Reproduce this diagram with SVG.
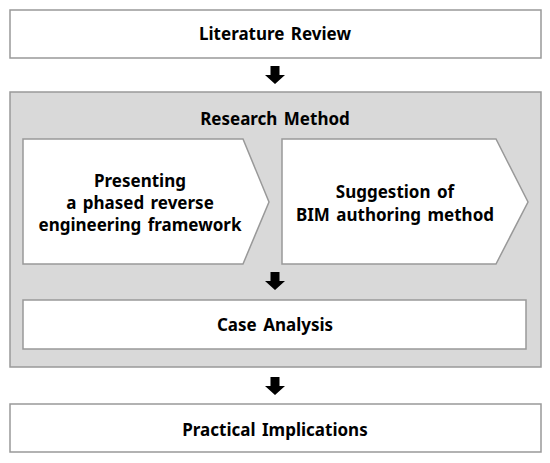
<svg xmlns="http://www.w3.org/2000/svg" width="550" height="463" viewBox="0 0 550 463">
<style>
.box{fill:#fff;stroke:#999;stroke-width:1.5}
.grp{fill:#d9d9d9;stroke:#999;stroke-width:1.5}
.t{font-family:"Noto Sans","Noto Sans CJK KR",sans-serif;font-weight:bold;font-size:17px;fill:#000;text-anchor:middle;word-spacing:2px}
.arr{fill:#000}
</style>
<defs>
<path id="dn" d="M-4.5,0 H4.5 V9 H10 L0,18 L-10,9 H-4.5 Z"/>
</defs>
<rect width="550" height="463" fill="#fff"/>
<g id="literature-review">
<rect class="box" x="10" y="10" width="531" height="48"/>
<text class="t" x="275" y="40">Literature Review</text>
</g>
<g id="research-method">
<rect class="grp" x="10" y="92" width="531" height="275"/>
<text class="t" x="275" y="125">Research Method</text>
</g>
<g id="presenting">
<polygon class="box" points="23,139 243,139 269,202 243,264 23,264"/>
<text class="t" x="140" y="187">Presenting</text>
<text class="t" x="140" y="209">a phased reverse</text>
<text class="t" x="140" y="231">engineering framework</text>
</g>
<g id="suggestion">
<polygon class="box" points="282,139 496,139 528,202 496,264 282,264"/>
<text class="t" x="395" y="198">Suggestion of</text>
<text class="t" x="395" y="221">BIM authoring method</text>
</g>
<g id="case-analysis">
<rect class="box" x="23" y="300" width="503" height="49"/>
<text class="t" x="275" y="331">Case Analysis</text>
</g>
<g id="practical-implications">
<rect class="box" x="10" y="404" width="531" height="48"/>
<text class="t" x="275" y="436">Practical Implications</text>
</g>
<g id="connectors">
<use href="#dn" class="arr" x="275" y="66"/>
<use href="#dn" class="arr" x="275" y="272"/>
<use href="#dn" class="arr" x="275" y="377"/>
</g>
</svg>
